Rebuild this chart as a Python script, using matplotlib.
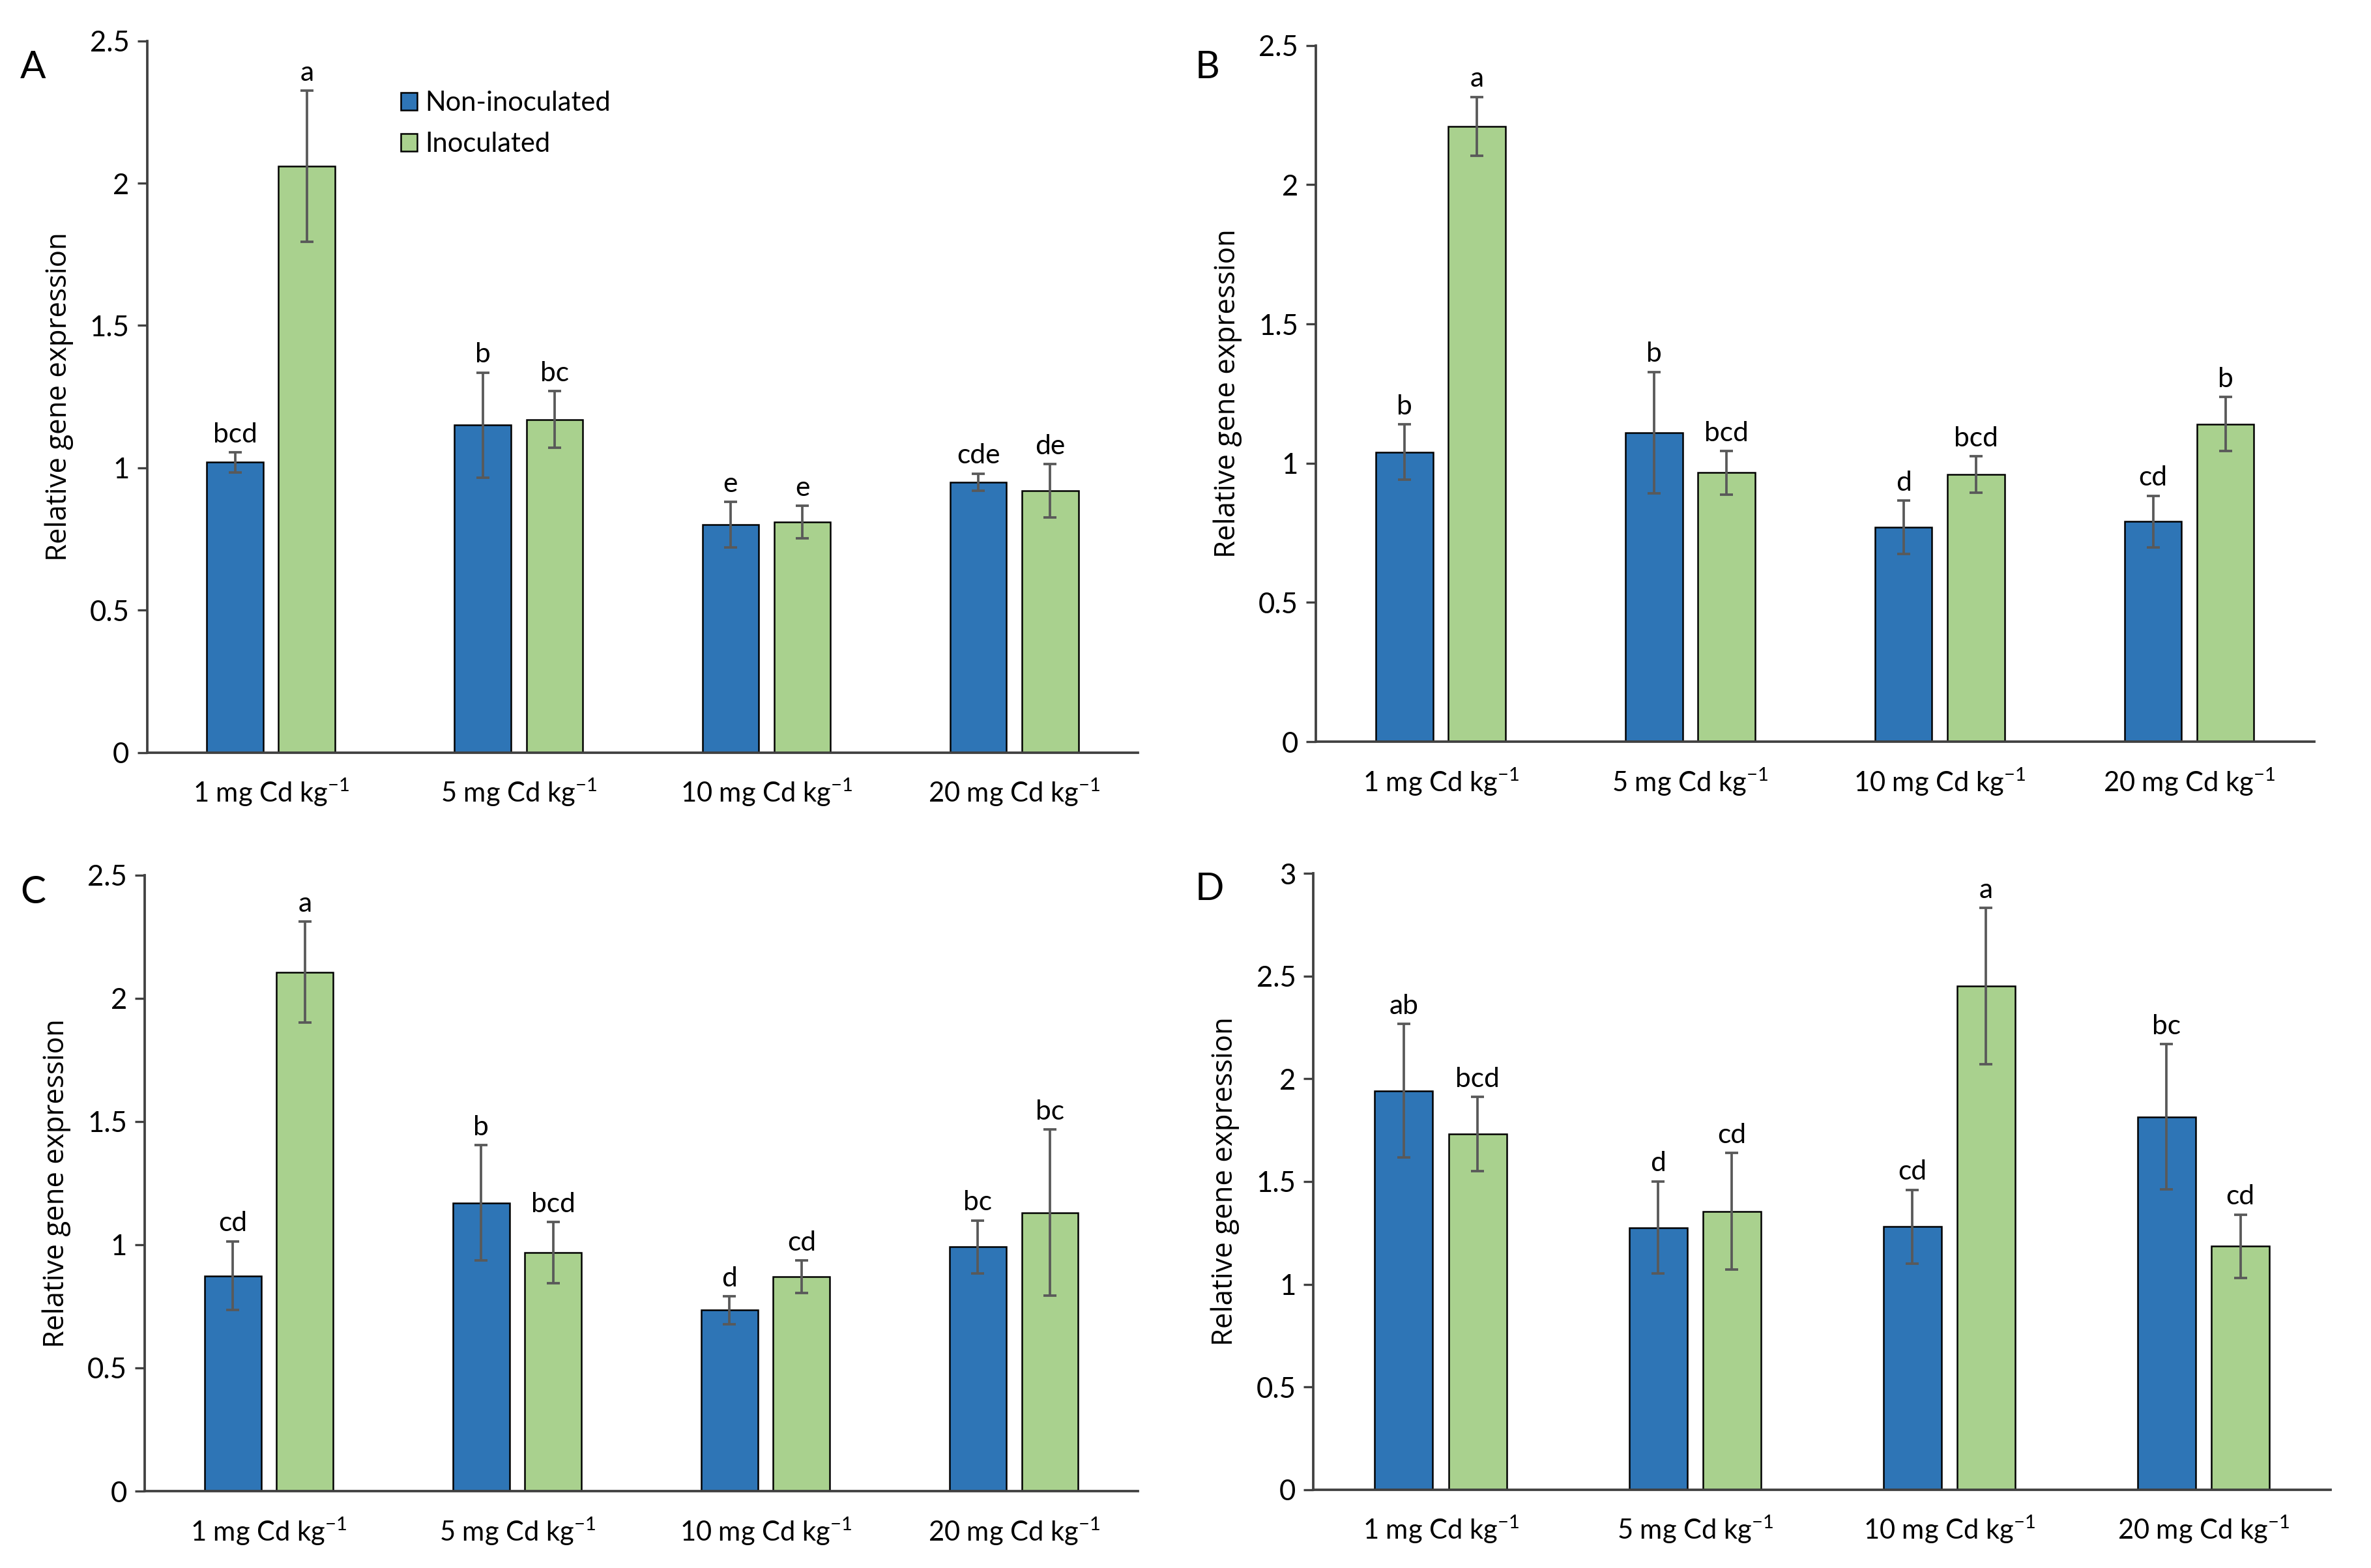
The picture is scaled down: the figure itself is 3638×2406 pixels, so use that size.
import matplotlib
matplotlib.use('Agg')
import matplotlib.pyplot as plt
import numpy as np

plt.rcParams['font.family'] = ['Lato', 'DejaVu Sans']
plt.rcParams['mathtext.default'] = 'regular'

categories = ['1 mg Cd kg$^{-1}$', '5 mg Cd kg$^{-1}$', '10 mg Cd kg$^{-1}$', '20 mg Cd kg$^{-1}$']
series_names = ['Non-inoculated', 'Inoculated']

# panel A
a_non = [1.02, 1.15, 0.80, 0.95]
a_non_err = [0.035, 0.185, 0.08, 0.03]
a_ino = [2.06, 1.17, 0.81, 0.92]
a_ino_err = [0.265, 0.10, 0.057, 0.094]
a_non_let = ['bcd', 'b', 'e', 'cde']
a_ino_let = ['a', 'bc', 'e', 'de']

# panel B
b_non = [1.04, 1.11, 0.77, 0.79]
b_non_err = [0.10, 0.218, 0.095, 0.093]
b_ino = [2.21, 0.966, 0.96, 1.14]
b_ino_err = [0.105, 0.078, 0.065, 0.097]
b_non_let = ['b', 'b', 'd', 'cd']
b_ino_let = ['a', 'bcd', 'bcd', 'b']

# panel C
c_non = [0.874, 1.17, 0.734, 0.991]
c_non_err = [0.14, 0.234, 0.056, 0.107]
c_ino = [2.106, 0.968, 0.87, 1.13]
c_ino_err = [0.204, 0.123, 0.065, 0.337]
c_non_let = ['cd', 'b', 'd', 'bc']
c_ino_let = ['a', 'bcd', 'cd', 'bc']

# panel D
d_non = [1.942, 1.276, 1.28, 1.815]
d_non_err = [0.325, 0.225, 0.18, 0.353]
d_ino = [1.731, 1.355, 2.451, 1.185]
d_ino_err = [0.18, 0.284, 0.38, 0.154]
d_non_let = ['ab', 'd', 'cd', 'bc']
d_ino_let = ['bcd', 'cd', 'a', 'cd']

BLUE = '#2E75B6'
GREEN = '#A9D18E'
AXIS = '#404040'

fig = plt.figure(figsize=(3638 / 300, 2406 / 300), dpi=300)


def draw_panel(rect, non, non_err, ino, ino_err, non_let, ino_let, ymax, letter, letter_pos, legend=False):
    ax = fig.add_axes(rect)
    x = np.arange(len(categories)) + 0.5
    w = 0.228
    off = 0.145
    err_kw = dict(ecolor='#595959', elinewidth=0.9, capsize=2.3, capthick=0.9)
    ax.bar(x - off, non, w, color=BLUE, edgecolor='black', linewidth=0.6,
           yerr=non_err, error_kw=err_kw, label=series_names[0], zorder=2)
    ax.bar(x + off, ino, w, color=GREEN, edgecolor='black', linewidth=0.6,
           yerr=ino_err, error_kw=err_kw, label=series_names[1], zorder=2)
    for i in range(len(categories)):
        ax.annotate(non_let[i], (x[i] - off, non[i] + non_err[i]), xytext=(0, 2),
                    textcoords='offset points', ha='center', va='bottom', fontsize=10.2)
        ax.annotate(ino_let[i], (x[i] + off, ino[i] + ino_err[i]), xytext=(0, 2),
                    textcoords='offset points', ha='center', va='bottom', fontsize=10.2)
    ax.set_xlim(0, len(categories))
    ax.set_ylim(0, ymax)
    ax.set_yticks(np.arange(0, ymax + 0.01, 0.5))
    ax.set_yticklabels(['0' if v == 0 else ('%g' % v) for v in np.arange(0, ymax + 0.01, 0.5)])
    ax.set_xticks(x)
    ax.set_xticklabels(categories)
    ax.tick_params(axis='x', length=0, pad=9, labelsize=10)
    ax.tick_params(axis='y', length=3.5, width=0.8, color=AXIS, labelsize=10.5, pad=3)
    for s in ['top', 'right']:
        ax.spines[s].set_visible(False)
    for s in ['left', 'bottom']:
        ax.spines[s].set_color(AXIS)
        ax.spines[s].set_linewidth(0.9)
    ax.set_ylabel('Relative gene expression', fontsize=10.5, family=['Open Sans', 'DejaVu Sans'], labelpad=6)
    fig.text(letter_pos[0], letter_pos[1], letter, fontsize=14, ha='left', va='center')
    if legend:
        ax.legend(loc='upper left', bbox_to_anchor=(0.245, 0.945), frameon=False,
                  fontsize=10, handlelength=0.6, handleheight=0.6, handletextpad=0.3,
                  labelspacing=0.6, borderaxespad=0)
    return ax


draw_panel([0.062, 0.52, 0.418, 0.454], a_non, a_non_err, a_ino, a_ino_err,
           a_non_let, a_ino_let, 2.5, 'A', (0.0085, 0.957), legend=True)
draw_panel([0.555, 0.527, 0.421, 0.444], b_non, b_non_err, b_ino, b_ino_err,
           b_non_let, b_ino_let, 2.5, 'B', (0.504, 0.957))
draw_panel([0.061, 0.049, 0.419, 0.393], c_non, c_non_err, c_ino, c_ino_err,
           c_non_let, c_ino_let, 2.5, 'C', (0.0085, 0.431))
draw_panel([0.554, 0.050, 0.429, 0.393], d_non, d_non_err, d_ino, d_ino_err,
           d_non_let, d_ino_let, 3.0, 'D', (0.504, 0.433))

fig.savefig('out.png', dpi=300, facecolor='white')
